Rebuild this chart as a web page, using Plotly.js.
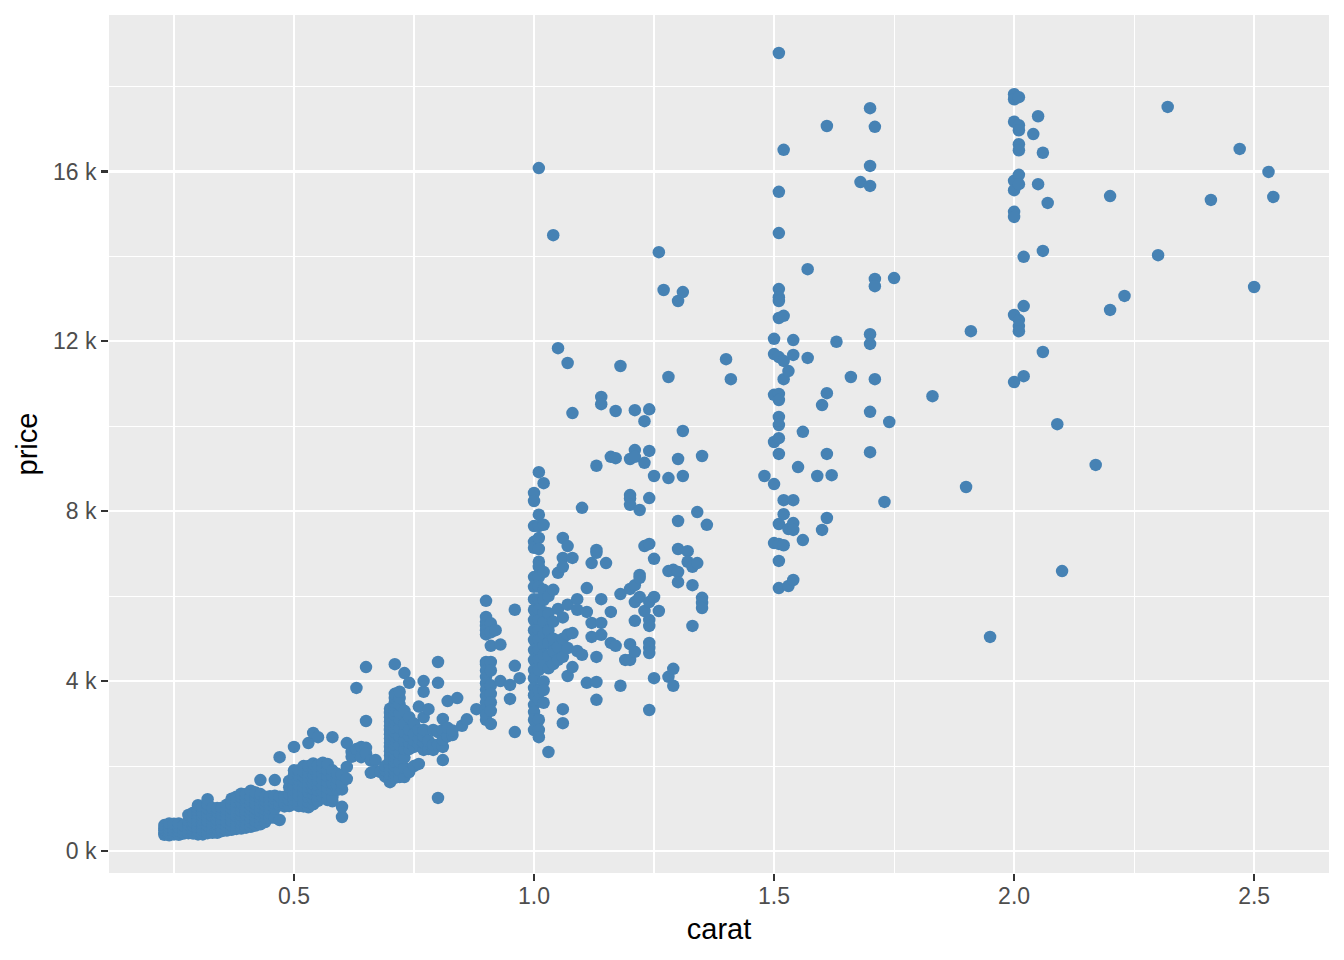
<!DOCTYPE html>
<html><head><meta charset="utf-8">
<script src="https://cdn.plot.ly/plotly-3.0.1.min.js"></script>
<style>html,body{margin:0;padding:0;background:#fff}#c{width:1344px;height:960px}</style>
</head><body><div id="c"></div>
<script>
const carats=[0.23,0.24,0.25,0.26,0.27,0.28,0.29,0.30,0.31,0.32,0.33,0.34,0.35,0.36,0.37,0.38,0.39,0.40,0.41,0.42,0.43,0.44,0.45,0.46,0.47,0.48,0.49,
0.50,0.51,0.52,0.53,0.54,0.55,0.56,0.57,0.58,0.59,0.60,0.61,0.62,0.63,0.64,0.65,0.66,0.67,0.68,0.69,
0.70,0.71,0.72,0.73,0.74,0.75,0.76,0.77,0.78,0.79,0.80,0.81,0.82,0.83,0.84,0.85,0.86,0.88,0.90,0.91,0.92,0.93,0.95,0.96,0.97,
1.00,1.01,1.02,1.03,1.04,1.05,1.06,1.07,1.08,1.09,1.10,1.11,1.12,1.13,1.14,1.15,1.16,1.17,1.18,1.19,1.20,1.21,1.22,1.23,1.24,1.25,1.26,1.27,1.28,1.29,1.30,1.31,1.32,1.33,1.34,1.35,1.36,
1.40,1.41,1.48,1.50,1.51,1.52,1.53,1.54,1.55,1.56,1.57,1.59,1.60,1.61,1.62,1.63,1.66,1.68,1.70,1.71,1.73,1.74,1.75,1.83,1.90,1.91,1.95,
2.00,2.01,2.02,2.04,2.05,2.06,2.07,2.09,2.10,2.17,2.20,2.23,2.30,2.32,2.41,2.47,2.50,2.53,2.54];
const prices=[
[380,430,490,540,610],[370,430,500,570,650],[390,470,560,640],[380,470,560,650],[410,500,600],[420,520,620,700,850],[410,490,590,680,780,900],
[390,470,550,630,710,790,870,950,1020,1080],[390,490,570,650,730,810,890,970,1050],[420,500,600,700,800,900,1000,1100,1220],[430,520,620,720,820,920,1010],
[430,530,630,730,830,930,1010],[470,560,660,760,860,960,1020],[480,570,680,780,880,980,1090],[500,600,700,800,900,1000,1100,1230],[520,620,720,820,920,1020,1160,1280],
[530,640,740,840,940,1040,1140,1270,1350],[550,650,750,850,950,1050,1150,1250,1340],[570,680,780,880,980,1080,1180,1280,1420],[600,700,800,900,1000,1100,1200,1300,1380],
[630,740,840,940,1040,1140,1240,1340,1670],[680,780,880,980,1080,1180,1280],[780,900,1000,1100,1200,1290],[780,1000,1120,1220,1300,1670],[730,1080,1160,1280,2210],[1050,1130,1280],[1060,1200,1340,1500,1650],
[1100,1200,1320,1440,1560,1680,1800,1900,2450],[1060,1180,1300,1420,1540,1660,1780,1900],[1050,1150,1270,1390,1510,1630,1750,1870,2000],[1030,1150,1270,1390,1510,1630,1750,1870,2000,2540],
[1100,1220,1340,1460,1580,1700,1820,1940,2060,2780],[1180,1300,1420,1540,1660,1780,1900,2020,2680],[1260,1400,1540,1680,1820,1960,2080],[1200,1340,1480,1620,1760,1900,2050],[1170,1270,1440,1600,1760,1900,2680],
[1440,1540,1700,1820],[800,1040,1450,1600,1790],[1700,1980,2540],[2330,2220],[3840,2400],[2450,2210],[4330,3060,2430,2300],[1840,2130],[2140,1890],[1860],[1750,1900,2000],
[1620,1700,1800,1900,2000,2150,2250,2350,2450,2550,2650,2750,2850,2950,3050,3150,3250,3350],
[1720,1800,1900,2000,2100,2200,2300,2400,2500,2600,2700,2800,2900,3000,3100,3200,3300,3400,3500,3600,3700,4400],
[1740,1900,2100,2300,2500,2700,2900,3100,3250,3450,3600,3750],
[1740,1960,2200,2400,2600,2800,3000,3300,4190],[1860,2400,2550,2700,2850,3150,3960],[2000,2450,2600,2750,3000],[2050,2500,2650,2850,3400],[2380,2550,2700,2850,3150,3750,4000],[2400,2600,3340],[2380,2500,2850],
[1250,2500,2800,3960,4450],[2140,2450,2620,2850,3110],[2700,2900,3530],[2730,2840],[3600],[2950],[3100],[3340],
[5890,5510,5400,5300,5200,5100,4450,4400,4250,4100,3950,3800,3650,3500,3350,3200,3090],[5360,5150,4830,4450,4250,3900,3700,3500,3300,2990],[5200],[4860,4000],[3910,3580],[5680,4360,2800],[4070],
[8430,8240,7650,7280,7140,6450,6220,5930,5680,5440,5200,4970,4730,4500,4260,4070,3840,3670,3440,3270,3090,2850],
[16080,8920,7920,7650,7370,7110,6810,6690,6450,6220,5930,5680,5440,5200,4970,4730,4500,4260,3790,3560,3090,2850,2680],
[8660,7680,6570,6150,5910,5630,5390,5110,4850,4620,4380,3990,3790,3490],
[2330,6000,5600,5200,4900,4600,4300],[14500,6150,5400,5000,4700,4400],[11840,6550,5700,4800,4500],[7370,6900,6690,5500,5000,4570,3340,3010],[11490,7180,5800,5100,4780,4120],[10310,6900,5130,4330],[5930,5680,4710],[8080,4620],
[6190,5630,3960],[6780,5370,5040],[9070,7090,7020,4570,3980,3560],[10690,10520,5930,5370,5090],[6780],[9280,5630,4900],[10360,9250,4830],[11420,6050,3890],[4500],
[9230,8380,8300,8150,6170,4870,4500],[10380,9440,9280,6260,5860,5420,4690],[8030,6500,6430,5980],[10120,9140,7180,5650],[10400,9420,8310,7230,5860,5440,5300,4900,4780,4660,3320],[8830,6880,5980,4070],[14100,5650],[13210],
[11160,8780,6590,4100],[6620,4290,3890],[12950,9230,7770,7110,6570,6330],[13160,9890,8830],[7060,6810],[6690,6260,5300],[7980,6780],[9300,5960,5840,5720],[7680],
[11580],[11110],[8830],[12060,11700,10740,9630,8640,7250],[18790,15520,14550,13230,13040,12950,12550,11630,10760,10620,10220,10030,9720,9350,7700,7230,6830,6190],[16510,12600,11540,11110,8260,7930,7200],[11300,7580,6240],[12030,11680,8260,7720,7560,6380],[9040],[9870,7320],[13700,11610],[8830],[10500,7560],[17070,10780,9350,7840],[8850],[11990],[11160],[15750],
[17490,16130,15660,12170,11940,10340,9390],[17050,13470,13300,11110],[8220],[10100],[13490],[10710],[8570],[12240],[5040],
[17820,17700,17170,15780,15560,15050,14930,12620,11040],[17750,17090,16970,16640,16500,15920,15700,12500,12360,12240],[13990,12830,11180],[16880],[17300,15700],[16440,14130,11750],[15260],[10050],[6590],[9090],[15420,12740],[13070],[14030],[17520],[15330],[16530],[13280],[15990],[15400]
];
const xTickVals=[0.5,1,1.5,2,2.5];
const xTickText=["0.5","1.0","1.5","2.0","2.5"];
const xMinorVals=[0.25,0.75,1.25,1.75,2.25];
const yTickVals=[0,4000,8000,12000,16000];
const yTickText=["0 k","4 k","8 k","12 k","16 k"];
const yMinorVals=[2000,6000,10000,14000,18000];

const x=[],y=[];
carats.forEach((c,i)=>prices[i].forEach(p=>{x.push(c);y.push(p);}));

const axisBase={showline:false,zeroline:false,gridcolor:"#ffffff",gridwidth:2.2,ticks:"outside",ticklen:7,tickwidth:2.2,tickcolor:"#333333",
  tickfont:{family:"Liberation Sans",size:23,color:"#4d4d4d"}};
Plotly.newPlot("c",[{type:"scatter",mode:"markers",x:x,y:y,marker:{color:"#4682b4",size:12.5,line:{width:0}},hoverinfo:"x+y"}],{
  width:1344,height:960,margin:{l:109,r:15,t:15,b:87},paper_bgcolor:"#ffffff",plot_bgcolor:"#ebebeb",showlegend:false,
  xaxis:Object.assign({},axisBase,{range:[0.1146,2.656],tickmode:"array",tickvals:xTickVals,ticktext:xTickText,ticklabelstandoff:-5,
    minor:{tickmode:"array",tickvals:xMinorVals,showgrid:true,gridcolor:"#ffffff",gridwidth:1.1,ticks:""},
    title:{text:"carat",font:{family:"Liberation Sans",size:29,color:"#000000"},standoff:11}}),
  yaxis:Object.assign({},axisBase,{range:[-518,19684],tickmode:"array",tickvals:yTickVals,ticktext:yTickText,
    minor:{tickmode:"array",tickvals:yMinorVals,showgrid:true,gridcolor:"#ffffff",gridwidth:1.1,ticks:""},
    title:{text:"price",font:{family:"Liberation Sans",size:29,color:"#000000"},standoff:6}})
},{displayModeBar:false,staticPlot:true});
</script></body></html>
